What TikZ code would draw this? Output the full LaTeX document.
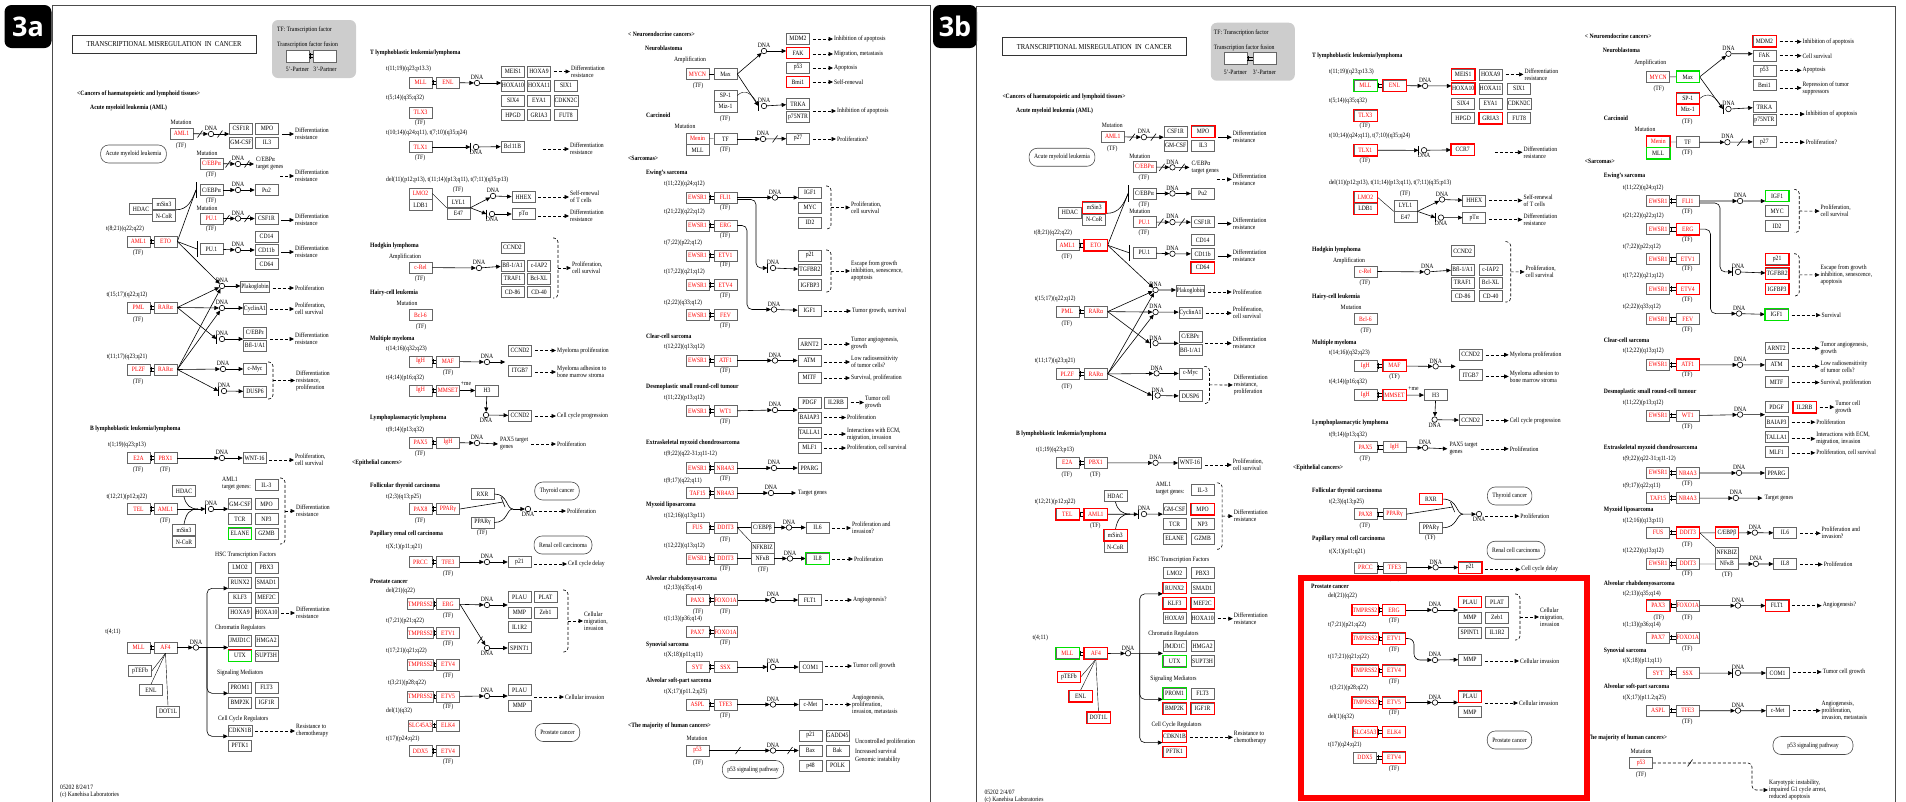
\documentclass[tikz,border=0pt]{standalone}
\usepackage{fontspec}
\setmainfont{Liberation Serif}[FakeStretch=0.86]
\newfontfamily\panelfont{Open Sans}
\usetikzlibrary{arrows.meta,positioning}

\definecolor{kred}{RGB}{255,0,0}
\definecolor{kgreen}{RGB}{0,225,0}
\definecolor{kgray}{RGB}{205,205,205}
\newcommand{\kfont}{\fontsize{6.6}{7}\selectfont}
\newcommand{\hfont}{\bfseries\fontsize{6.6}{7}\selectfont}

\tikzset{
  gene/.style={draw=black!60, line width=0.6pt, fill=white, minimum width=23pt, minimum height=11pt, inner sep=0.5pt, font=\kfont},
  fgene/.style={gene, text=kred},
  txt/.style={anchor=west, inner sep=0pt, font=\kfont, align=left},
  ctxt/.style={inner sep=0pt, font=\kfont, align=center},
  hd/.style={anchor=west, inner sep=0pt, font=\hfont},
  dna/.style={circle, draw=black, line width=0.6pt, minimum size=5.5pt, inner sep=0pt, label distance=1pt},
  dnalbl/.style={font=\kfont, inner sep=0pt},
  arr/.style={line width=0.6pt, -{Triangle[length=4.5pt,width=4pt]}},
  darr/.style={arr, dash pattern=on 3pt off 2pt},
  pathway/.style={draw=black!70, line width=0.6pt, rounded corners=8pt, minimum height=18pt, inner xsep=5pt, font=\kfont},
  hlred/.style={draw=kred, line width=1.2pt},
  hlgreen/.style={draw=kgreen, line width=1.2pt},
}

\newcounter{lbl}
\newcommand{\tw}[3][txt]{\stepcounter{lbl}\node (l\arabic{lbl}) [#1] at (#2) {#3};}
\newcommand{\tx}[2]{\tw[ctxt]{#1}{#2}}
\newcommand{\tf}[1]{\tw[ctxt]{#1}{(TF)}}
\newcommand{\gn}[3]{\node (#1) [gene] at (#2) {#3};}
\newcommand{\fg}[3]{\node (#1) [fgene] at (#2) {#3};}
\newcommand{\res}[3]{\node (#1) [txt] at (#2) {#3};}
\newcommand{\dna}[3][above]{\node (#2) [dna, label={[dnalbl]#1:DNA}] at (#3) {};}
\newcommand{\dnai}[3][above]{\dna[#1]{#2}{#3}\coordinate (#2b) at ([xshift=-2.5pt]#2.west);\draw[line width=0.6pt] (#2b) ++(0,-4.5) -- ++(0,9);}
\newcommand{\fuse}[2]{\draw[line width=0.5pt] ([yshift=1.6pt]#1.east) -- ([yshift=1.6pt]#2.west) ([yshift=-1.6pt]#1.east) -- ([yshift=-1.6pt]#2.west) ([xshift=1pt,yshift=2.6pt]#1.east) -- ([xshift=1pt,yshift=-2.6pt]#1.east);}
\newcommand{\cutm}[1]{\draw[line width=0.6pt] (#1) ++(-2.5,3.5) -- ++(5,-7);}
\newcommand{\go}[2]{\draw[darr] ([xshift=3pt]#1.east |- #2.west) -- ([xshift=-1pt]#2.west);}
\newcommand{\gos}[2]{\draw[arr] ([xshift=3pt]#1.east |- #2.west) -- ([xshift=-1pt]#2.west);}
\newcommand{\brc}[4]{\draw[line width=0.6pt, dash pattern=on 3pt off 2pt, rounded corners=4pt] (#1,#2) -| ({#1+5},{(#2+#3)/2}) |- (#1,#3); \draw[darr] ({#1+5},{(#2+#3)/2}) -- ([xshift=-1pt]#4.west);}
\newcommand{\hlr}[1]{\foreach \n in {#1} {\draw[hlred] (\n.north west) rectangle (\n.south east);}}
\newcommand{\hlg}[1]{\foreach \n in {#1} {\draw[hlgreen] (\n.north west) rectangle (\n.south east);}}
\newif\ifpanelb

% the whole KEGG map 05202, in the coordinates of panel 3a
\newcommand{\cancermap}{%
\node (title) [draw=black!80, line width=1pt, minimum width=184pt, minimum height=18pt, font=\fontsize{7.6}{8}\selectfont] at (164,44) {TRANSCRIPTIONAL MISREGULATION\ \ IN\ \ CANCER};
\node (legend) [fill=kgray, rounded corners=6pt, minimum width=84pt, minimum height=58pt] at (314,49) {};
\tw{277,30}{TF: Transcription factor}
\tw{277,45}{Transcription factor fusion}
\node (p5) [gene, minimum height=12pt] at (297.5,56) {};
\node (p3) [gene, minimum height=12pt] at (325,56) {};
\fuse{p5}{p3}
\tx{297.5,69}{5'-Partner}
\tx{325,69}{3'-Partner}
% AML
\tw[hd]{77,94}{<Cancers of haematopoietic and lymphoid tissues>}
\tw[hd]{90,108}{Acute myeloid leukemia (AML)}
\tx{181,122}{Mutation}
\fg{aml1a}{181.5,133.5}{AML1} \tf{181,146}
\dna{da1}{211,134}
\gn{csf1}{241,128.5}{CSF1R} \gn{gmcsf1}{241,142.5}{GM-CSF}
\gn{mpo1}{267,128.5}{MPO} \gn{il3a}{267,142.5}{IL3}
\draw[arr] (aml1a) -- (da1); \cutm{200,134}
\draw[arr] (da1) -- (da1 -| csf1.west); \cutm{220,134}
\res{dr1}{295,134}{Differentiation\\resistance} \gos{il3a}{dr1}
\node (amlp) [pathway] at (133.5,154) {Acute myeloid leukemia};
\tx{207,153}{Mutation}
\fg{cebpa1}{211.5,163.5}{C/EBPα} \tf{211,175}
\dna{da2}{238,164}
\draw[arr] (cebpa1) -- (da2); \cutm{228,164}
\res{cgt}{256,164}{C/EBPα\\target genes}
\draw[arr] (da2) -- ([xshift=-2pt]cgt.west); \cutm{247,164}
\res{dr2}{295,176}{Differentiation\\resistance}
\draw[darr] ([xshift=-15pt]dr2.west) -- ([xshift=-1pt]dr2.west);
\gn{cebpa2}{211.5,190}{C/EBPα} \tf{211,201}
\coordinate (cbar) at (196,190);
\draw[line width=0.6pt] (cbar) ++(0,-8) -- ++(0,16);
\dna{da3}{238,190}
\gn{pu2}{266.5,190}{Pu2}
\draw[arr] (cebpa2) -- (da3); \draw[arr] (da3) -- (pu2);
\gn{hdac1}{141,209}{HDAC} \gn{msin1}{164,204}{mSin3} \gn{ncor1}{164,216}{N-CoR}
\draw[line width=0.6pt] (msin1.south east) .. controls (188,210) and (192,200) .. (cbar);
\tx{207,208}{Mutation}
\fg{pu1a}{211.5,218.5}{PU.1} \tf{211,229}
\dna{da4}{238,218.5}
\gn{csf2}{266.5,218.5}{CSF1R}
\draw[arr] (pu1a) -- (da4); \cutm{227,218.5} \draw[arr] (da4) -- (csf2); \cutm{247,218.5}
\res{dr3}{295,220}{Differentiation\\resistance} \gos{csf2}{dr3}
\tx{125,229}{t(8;21)(q22;q22)}
\fg{aml1b}{138.5,241.5}{AML1} \fg{eto}{165.5,241.5}{ETO} \fuse{aml1b}{eto} \tf{138,253}
\gn{pu1b}{211.5,249}{PU.1}
\coordinate (pbar) at (197,249);
\draw[line width=0.6pt] (pbar) ++(0,-8) -- ++(0,16);
\draw[line width=0.6pt] (eto.east) -- (cbar);
\draw[line width=0.6pt] (eto.east) -- (pbar);
\dna{da6}{238,250}
\gn{cd14}{266.5,236.5}{CD14} \gn{cd11b}{266.5,250}{CD11b} \gn{cd64}{266.5,264}{CD64}
\draw[arr] (pu1b) -- (da6); \draw[arr] (da6) -- (cd11b);
\res{dr4}{295,252}{Differentiation\\resistance} \gos{cd11b}{dr4}
% APL
\dna{da5}{222,286}
\gn{plak}{255,287}{Plakoglobin}
\draw[arr] (da5) -- (da5 -| plak.west);
\res{pr1}{295,288}{Proliferation} \go{plak}{pr1}
\draw[arr] (eto.east) -- (da5);
\tx{127,295}{t(15;17)(q22;q12)}
\fg{pml}{138.5,307.5}{PML} \fg{rara1}{165.5,307.5}{RARα} \fuse{pml}{rara1} \tf{138,320}
\dna{da7}{222,308}
\gn{cyca1}{255,309}{CyclinA1}
\draw[arr] (da7) -- (da7 -| cyca1.west);
\res{pr2}{295,309}{Proliferation,\\cell survival} \go{cyca1}{pr2}
\dnai{da8}{222,339}
\gn{cebpe}{255,332.5}{C/EBPε} \gn{bfl1}{255,345.5}{Bfl-1/A1}
\draw[arr] (da8) -- (da8 -| cebpe.west);
\res{dr5}{295,339}{Differentiation\\resistance} \go{cebpe}{dr5}
\tx{127,357}{t(11;17)(q23;q21)}
\fg{plzf}{138.5,369.5}{PLZF} \fg{rara2}{165.5,369.5}{RARα} \fuse{plzf}{rara2} \tf{138,382}
\dna{da9}{223,369}
\gn{cmyc}{255,369}{c-Myc}
\dnai{da10}{224,391}
\gn{dusp6}{255,391.5}{DUSP6}
\draw[arr] (da9) -- (cmyc); \draw[arr] (da10) -- (dusp6);
\res{dr6}{296,380.5}{Differentiation\\resistance,\\proliferation}
\brc{268}{362}{399}{dr6}
\draw[arr] (rara1.east) -- (da5); \draw[arr] (rara1.east) -- (da7); \draw[arr] (rara1.east) -- (da8b);
\draw[arr] (rara2.east) -- (da5); \draw[arr] (rara2.east) -- (da7); \draw[arr] (rara2.east) -- (da9); \draw[arr] (rara2.east) -- (da10b);
% B lymphoblastic
\tw[hd]{90,429}{B lymphoblastic leukemia/lymphoma}
\tx{127,445}{t(1;19)(q23;p13)}
\fg{e2a}{138.5,458}{E2A} \fg{pbx1}{165.5,458}{PBX1} \fuse{e2a}{pbx1} \tf{138,470} \tf{165,470}
\dna{da11}{222,458}
\gn{wnt16}{254.5,458}{WNT-16}
\draw[arr] (pbx1) -- (da11); \draw[arr] (da11) -- (wnt16);
\res{pr3}{295,460}{Proliferation,\\cell survival} \go{wnt16}{pr3}
\gn{hdac2}{184,491}{HDAC}
\tx{127,497}{t(12;21)(p12;q22)}
\fg{tel}{138.5,509}{TEL} \fg{aml1c}{165.5,509}{AML1} \fuse{tel}{aml1c} \tf{165,521}
\gn{msin2}{184,530}{mSin3} \gn{ncor2}{184,542}{N-CoR}
\dnai{da12}{211,509}
\draw[arr] (aml1c) -- (da12b);
\draw[line width=0.6pt] (hdac2.south) .. controls (186,505) and (190,509) .. (198,509);
\draw[line width=0.6pt] (msin2.north) .. controls (186,513) and (190,509) .. (198,509);
\tw{222,484}{AML1\\target genes:}
\gn{il3b}{266.5,485}{IL-3}
\gn{gmcsf2}{240,504}{GM-CSF} \gn{mpo2}{266.5,504}{MPO}
\gn{tcr}{240,519}{TCR} \gn{np3}{266.5,519}{NP3}
\gn{elane}{240,533.5}{ELANE} \gn{gzmb}{266.5,533.5}{GZMB}
\draw[arr] (da12) -- (da12 -| gmcsf2.west);
\res{dr7}{296,511}{Differentiation\\resistance}
\brc{280}{478}{544}{dr7}
\tw{215,555}{HSC Transcription Factors}
\gn{lmo2b}{240,567.5}{LMO2} \gn{pbx3}{266.5,567.5}{PBX3}
\gn{runx2}{240,582.5}{RUNX2} \gn{smad1}{266.5,582.5}{SMAD1}
\gn{klf3}{240,597.5}{KLF3} \gn{mef2c}{266.5,597.5}{MEF2C}
\gn{hoxa9b}{240,612.5}{HOXA9} \gn{hoxa10b}{266.5,612.5}{HOXA10}
\res{dr8}{296,613}{Differentiation\\resistance} \go{hoxa10b}{dr8}
\tw{215,628}{Chromatin Regulators}
\gn{jmjd1c}{240,640.5}{JMJD1C} \gn{hmga2}{266.5,640.5}{HMGA2}
\gn{utx}{240,655.5}{UTX} \gn{supt3h}{266.5,655.5}{SUPT3H}
\tw{217,673}{Signaling Mediators}
\gn{prom1}{240,687.5}{PROM1} \gn{flt3}{266.5,687.5}{FLT3}
\gn{bmp2k}{240,702.5}{BMP2K} \gn{igf1r}{266.5,702.5}{IGF1R}
\tw{218,719}{Cell Cycle Regulators}
\gn{cdkn1b}{240,730.5}{CDKN1B} \gn{pftk1}{240,745.5}{PFTK1}
\res{rc}{296,731}{Resistance to\\chemotherapy} \go{cdkn1b}{rc}
\tx{113,632}{t(4;11)}
\fg{mll1}{138.5,647.5}{MLL} \fg{af4}{165.5,647.5}{AF4} \fuse{mll1}{af4}
\dna{da13}{196,647.5}
\draw[arr] (af4) -- (da13);
\coordinate (br) at (207,647.5);
\draw[arr] (da13) -- (da13 -| jmjd1c.west);
\draw[arr, rounded corners=5pt] (br) |- (runx2.south west);
\draw[arr, rounded corners=5pt] (br) |- (prom1.south west);
\draw[arr, rounded corners=5pt] (br) |- (cdkn1b.south west);
\gn{ptefb}{140,671}{pTEFb} \gn{enl1}{151,690}{ENL} \gn{dot1l}{168,711.5}{DOT1L}
\draw (af4.south) -- (ptefb.east); \draw (af4.south) -- (enl1.north); \draw (af4.south) -- (dot1l.north);
\ifpanelb \tw{60,786}{05202 2/4/07}\tw{60,793}{(c) Kanehisa Laboratories}\else \tw{60,787}{05202 8/24/17}\tw{60,795}{(c) Kanehisa Laboratories}\fi
% T lymphoblastic
\tw[hd]{370,53}{T lymphoblastic leukemia/lymphoma}
\tw{386,69}{t(11;19)(q23;p13.3)}
\fg{mll2}{420.5,82.5}{MLL} \fg{enl2}{448,82.5}{ENL} \fuse{mll2}{enl2}
\dna{da14}{477,83}
\gn{meis1}{513,71.5}{MEIS1} \gn{hoxa9}{539,71.5}{HOXA9}
\gn{hoxa10}{513,85.5}{HOXA10} \gn{hoxa11}{539,85.5}{HOXA11} \gn{six1}{566,85.5}{SIX1}
\gn{six4}{513,100.5}{SIX4} \gn{eya1}{539,100.5}{EYA1} \gn{cdkn2c}{566,100.5}{CDKN2C}
\gn{hpgd}{513,115}{HPGD} \gn{gria3}{539,115}{GRIA3} \gn{fut8}{566,115}{FUT8}
\draw[arr] (enl2) -- (da14); \draw[arr] (da14) -- (da14 -| hoxa10.west);
\res{dr9}{571,71.5}{Differentiation\\resistance} \go{hoxa9}{dr9}
\tw{386,98}{t(5;14)(q35;q32)}
\fg{tlx3}{420.5,112.5}{TLX3} \tf{420,123}
\tw{386,133}{t(10;14)(q24;q11), t(7;10)(q35;q24)}
\fg{tlx1}{420.5,147}{TLX1} \tf{420,158}
\dnai[below]{da15}{476,147}
\ifpanelb \gn{bcl11b}{512.5,146.5}{CCR7}\else \gn{bcl11b}{512.5,146.5}{Bcl11B}\fi
\draw[arr] (tlx1) -- (da15b); \draw[arr] (da15) -- (bcl11b);
\res{dr10}{570,149}{Differentiation\\resistance}
\draw[darr] ([xshift=-27pt]dr10.west) -- ([xshift=-1pt]dr10.west);
\tw{386,180}{del(11)(p12;p13), t(11;14)(p13;q11), t(7;11)(q35;p13)}
\tx{458,190}{(TF)}
\fg{lmo2}{420.5,193.5}{LMO2} \gn{ldb1}{420.5,205}{LDB1}
\gn{lyl1}{458.5,202}{LYL1} \gn{e47}{458.5,213.5}{E47}
\draw (lmo2.east) -- (lyl1.south west);
\dna{da16}{493,196} \dnai[below]{da17}{492,214}
\draw[arr] (lyl1.south east) -- (da16); \draw[arr] (lyl1.south east) -- (da17b);
\gn{hhex}{523.5,197}{HHEX} \gn{pta}{523.5,214}{pTα}
\draw[arr] (da16) -- (hhex); \draw[arr] (da17) -- (pta);
\res{srt}{570,197}{Self-renewal\\of T cells} \go{hhex}{srt}
\res{dr11}{570,216}{Differentiation\\resistance} \go{pta}{dr11}
% Hodgkin, hairy cell, myeloma
\tw[hd]{370,246}{Hodgkin lymphoma}
\tx{405,257}{Amplification}
\fg{crel}{420.5,267.5}{c-Rel} \tf{420,279}
\dna{da18}{479,268}
\gn{ccnd2a}{512.5,247.5}{CCND2}
\gn{bfl2}{512.5,265.5}{Bfl-1/A1} \gn{ciap2}{539,265.5}{c-IAP2}
\gn{traf1}{512.5,278.5}{TRAF1} \gn{bclxl}{539,278.5}{Bcl-XL}
\gn{cd86}{512.5,292}{CD-86} \gn{cd40}{539,292}{CD-40}
\draw[arr] (crel) -- (da18); \draw[arr] (da18) -- (bfl2);
\res{pc1}{572,268}{Proliferation,\\cell survival} \brc{553}{238}{298}{pc1}
\tw[hd]{370,293}{Hairy-cell leukemia}
\tx{407,303}{Mutation}
\fg{bcl6}{420.5,315}{Bcl-6} \tf{421,327}
\tw[hd]{370,339}{Multiple myeloma}
\tw{386,349}{t(14;16)(q32;q23)}
\fg{igh1}{420.5,361.5}{IgH} \fg{maf}{448,361.5}{MAF} \fuse{igh1}{maf} \tf{448,373}
\dna{da19}{487,362}
\gn{ccnd2b}{520,350.5}{CCND2} \gn{itgb7}{520,370.5}{ITGB7}
\draw[arr] (maf) -- (da19); \draw[arr] (da19) -- ([xshift=-3pt]da19 -| ccnd2b.west);
\res{mp}{557,350.5}{Myeloma proliferation} \go{ccnd2b}{mp}
\res{ma}{557,372}{Myeloma adhesion to\\bone marrow stroma} \go{itgb7}{ma}
\tw{386,378}{t(4;14)(p16;q32)}
\fg{igh2}{420.5,390.5}{IgH} \fg{mmset}{448,390.5}{MMSET} \fuse{igh2}{mmset}
\gn{h3}{487,390.5}{H3}
\draw[arr] (mmset) -- (h3); \tx{466,384}{+me}
\dna[below]{da20}{486,415}
\draw[arr] (h3) -- (da20);
\gn{ccnd2c}{520,415.5}{CCND2}
\draw[arr] (da20) -- (ccnd2c);
\res{ccp}{557,416}{Cell cycle progression} \go{ccnd2c}{ccp}
\tw[hd]{370,418}{Lymphoplasmacytic lymphoma}
\tw{386,430}{t(9;14)(p13;q32)}
\fg{pax5}{420.5,442.5}{PAX5} \fg{igh3}{448,442.5}{IgH} \fuse{pax5}{igh3} \tf{420,454}
\dna{da21}{477,443}
\draw[arr] (igh3) -- (da21);
\res{p5t}{500,444}{PAX5 target\\genes}
\draw[arr] (da21) -- ([xshift=-2pt]p5t.west);
\res{pro4}{557,444}{Proliferation} \go{p5t}{pro4}
% epithelial
\tw[hd]{352,463}{<Epithelial cancers>}
\tw[hd]{370,486}{Follicular thyroid carcinoma}
\tw{386,497}{t(2;3)(q13;p25)}
\fg{pax8}{420.5,509}{PAX8} \fg{pparg1}{448,509}{PPARγ} \fuse{pax8}{pparg1} \tf{420,521}
\gn{rxr}{482.5,494}{RXR} \gn{pparg2}{482.5,522.5}{PPARγ} \tf{482,533}
\node (thyroid) [pathway] at (557,491) {Thyroid cancer};
\dna[below]{da22}{528,509}
\coordinate (jn) at (513,509);
\draw[line width=0.6pt] (rxr.east) .. controls (508,494) and (506,509) .. (jn);
\draw[line width=0.6pt] (pparg2.east) .. controls (508,522.5) and (506,509) .. (jn);
\draw[arr] (jn) -- (da22);
\draw[line width=0.6pt] (pparg1.east) -- (503,502);
\draw[line width=0.6pt] (501,497) -- (505,507);
\res{pro5}{567,511}{Proliferation}
\draw[darr] ([xshift=3pt]da22.east |- pro5.west) -- ([xshift=-1pt]pro5.west);
\tw[hd]{370,534}{Papillary renal cell carcinoma}
\tw{386,547}{t(X;1)(p11;q21)}
\fg{prcc}{420.5,562}{PRCC} \fg{tfe3a}{448,562}{TFE3} \fuse{prcc}{tfe3a} \tf{448,574}
\node (renal) [pathway] at (563,545) {Renal cell carcinoma};
\dna{da23}{487,562}
\gn{p21a}{519.5,562}{p21}
\draw[arr] (tfe3a) -- (da23); \draw[arr] (da23) -- (p21a);
\res{ccd}{568,564}{Cell cycle delay} \go{p21a}{ccd}
\ifpanelb\else
\tw[hd]{370,581}{Prostate cancer}
\tw{386,591}{del(21)(q22)}
\fg{tmp1}{420.5,604}{TMPRSS2} \fg{erg1}{448,604}{ERG} \fuse{tmp1}{erg1} \tf{448,616}
\dna{da24}{487,605}
\gn{plau1}{519.5,597}{PLAU} \gn{plat}{545.5,597}{PLAT}
\gn{mmp1}{519.5,612.5}{MMP} \gn{zeb1}{545.5,612.5}{Zeb1}
\gn{il1r2}{519.5,627}{IL1R2}
\gn{spint1}{519.5,648}{SPINT1}
\draw[arr] (erg1) -- (da24); \draw[arr] (da24) -- (da24 -| plau1.west);
\dna[below]{da25}{487,648}
\draw[arr] (erg1.east) -- (da25); \cutm{480,640}
\draw[arr] (da25) -- (spint1);
\res{cmi}{584,621}{Cellular\\migration,\\invasion} \brc{563}{590}{652}{cmi}
\tw{386,621}{t(7;21)(p21;q22)}
\fg{tmp2}{420.5,633}{TMPRSS2} \fg{etv1a}{448,633}{ETV1} \fuse{tmp2}{etv1a} \tf{448,644}
\tw{386,651}{t(17;21)(q21;q22)}
\fg{tmp3}{420.5,664.5}{TMPRSS2} \fg{etv4a}{448,664.5}{ETV4} \fuse{tmp3}{etv4a} \tf{448,676}
\tw{388,683}{t(3;21)(p28;q22)}
\fg{tmp4}{420.5,696.5}{TMPRSS2} \fg{etv5}{448,696.5}{ETV5} \fuse{tmp4}{etv5} \tf{448,707}
\dna{da26}{487,696}
\gn{plau2}{519.5,690}{PLAU} \gn{mmp2}{519.5,705.5}{MMP}
\draw[arr] (etv5) -- (da26); \draw[arr] (da26) -- (da26 -| plau2.west);
\res{ci}{565,697}{Cellular invasion} \go{plau2}{ci}
\tw{386,711}{del(1)(q32)}
\fg{slc}{420.5,725.5}{SLC45A3} \fg{elk4}{448,725.5}{ELK4} \fuse{slc}{elk4}
\node (prostate) [pathway] at (557.5,732.5) {Prostate cancer};
\tw{386,739}{t(17)(p24;q21)}
\fg{ddx5}{420.5,751}{DDX5} \fg{etv4b}{448,751}{ETV4} \fuse{ddx5}{etv4b} \tf{448,762}
\fi
% neuroendocrine
\tw[hd]{628,34}{< Neuroendocrine cancers>}
\tw[hd]{645,48}{Neuroblastoma}
\tx{690,60}{Amplification}
\fg{mycn}{697.5,74}{MYCN} \gn{max}{725.5,74}{Max} \draw (mycn) -- (max); \tf{698,86}
\dna{da27}{764,51} \dnai{da28}{764,106}
\draw[arr] (max.east) -- (da27); \draw[arr] (max.east) -- (da28b);
\gn{mdm2}{798,38.5}{MDM2} \gn{fak}{798,53}{FAK} \gn{p53a}{798,67.5}{p53} \gn{bmi1}{798,82}{Bmi1}
\draw[arr] (da27) -- (da27 -| fak.west);
\res{ia1}{834,39}{Inhibition of apoptosis} \go{mdm2}{ia1}
\ifpanelb
 \res{mm1}{834,53}{Cell survival} \go{fak}{mm1}
 \res{ap1}{834,67.5}{Apoptosis} \go{p53a}{ap1}
 \res{sr1}{834,85}{Repression of tumor\\suppressors} \go{bmi1}{sr1}
\else
 \res{mm1}{834,54}{Migration, metastasis} \go{fak}{mm1}
 \res{ap1}{834,68}{Apoptosis} \go{p53a}{ap1}
 \res{sr1}{834,82}{Self-renewal} \go{bmi1}{sr1}
\fi
\gn{sp1}{725.5,95.5}{SP-1} \gn{miz1}{725.5,106.5}{Miz-1} \tf{725,119}
\draw (sp1.east) .. controls (745,88) and (752,94) .. (757,103);
\gn{trka}{798,104}{TRKA} \gn{p75}{798,117}{p75NTR}
\draw[arr] (da28) -- (trka);
\res{ia2}{837,111}{Inhibition of apoptosis} \go{p75}{ia2}
\tw[hd]{646,115}{Carcinoid}
\tx{685,126}{Mutation}
\fg{menin}{697.5,138.5}{Menin} \gn{mll3}{697.5,150}{MLL}
\gn{tfc}{725.5,139}{TF} \tf{725,150}
\draw (menin) -- (tfc);
\dna{da29}{763,139}
\gn{p27}{798,138.5}{p27}
\draw[arr] (tfc) -- (da29); \draw[arr] (da29) -- (p27); \cutm{775,139}
\res{prq}{837,139}{Proliferation?} \go{p27}{prq}
% sarcomas
\tw[hd]{628,158}{<Sarcomas>}
\tw[hd]{646,173}{Ewing's sarcoma}
\tw{664,184}{t(11;22)(q24;q12)}
\fg{ews1}{697.5,197.5}{EWSR1} \fg{fli1}{725.5,197.5}{FLI1} \fuse{ews1}{fli1} \tf{725,208}
\dna{da30}{775,197.5}
\gn{igf1a}{810,192.5}{IGF1} \gn{myc}{810,207.5}{MYC} \gn{id2}{810,222.5}{ID2}
\draw[arr] (fli1) -- (da30); \draw[arr] (da30) -- (da30 -| igf1a.west);
\res{pc2}{851,207.5}{Proliferation,\\cell survival} \brc{826}{186}{229}{pc2}
\tw{664,212}{t(21;22)(q22;q12)}
\fg{ews2}{697.5,225.5}{EWSR1} \fg{erg2}{725.5,225.5}{ERG} \fuse{ews2}{erg2} \tf{725,236}
\tw{664,243}{t(7;22)(p22;q12)}
\fg{ews3}{697.5,255.5}{EWSR1} \fg{etv1b}{725.5,255.5}{ETV1} \fuse{ews3}{etv1b} \tf{725,265}
\tw{664,272}{t(17;22)(q21;q12)}
\fg{ews4}{697.5,285}{EWSR1} \fg{etv4c}{725.5,285}{ETV4} \fuse{ews4}{etv4c} \tf{725,296}
\tw{664,303}{t(2;22)(q33;q12)}
\fg{ews5}{697.5,315}{EWSR1} \fg{fev}{725.5,315}{FEV} \fuse{ews5}{fev} \tf{725,326}
\dnai{da31}{773,268}
\draw[arr, rounded corners=5pt] ([yshift=-2pt]fli1.east) -| (756,268) -- (da31b);
\gn{p21b}{810,255.5}{p21} \gn{tgfbr2}{810,269.5}{TGFBR2} \gn{igfbp3}{810,285}{IGFBP3}
\draw[arr] (da31) -- (tgfbr2);
\res{eg}{851,271}{Escape from growth\\inhibition, senescence,\\apoptosis} \brc{826}{250}{292}{eg}
\dna{da32}{774,309.5}
\draw[arr, rounded corners=5pt] (erg2.east) -| (747,309.5) -- (da32);
\gn{igf1b}{809.5,310.5}{IGF1}
\draw[arr] (da32) -- (igf1b);
\ifpanelb \res{tg}{852,311}{Survival}\else \res{tg}{852,311}{Tumor growth, survival}\fi
\go{igf1b}{tg}
\tw[hd]{646,336}{Clear-cell sarcoma}
\tw{664,347}{t(12;22)(q13;q12)}
\fg{ews6}{697.5,360.5}{EWSR1} \fg{atf1}{725.5,360.5}{ATF1} \fuse{ews6}{atf1} \tf{725,371}
\dna{da33}{775,360.5}
\gn{arnt2}{809.5,344}{ARNT2} \gn{atm}{809.5,360.5}{ATM} \gn{mitf}{809.5,377.5}{MITF}
\draw[arr] (atf1) -- (da33); \draw[arr] (da33) -- (atm);
\res{ta}{851,344}{Tumor angiogenesis,\\growth} \go{arnt2}{ta}
\res{lr}{851,362}{Low radiosensitivity\\of tumor cells?} \go{atm}{lr}
\res{sp}{851,378}{Survival, proliferation} \go{mitf}{sp}
\tw[hd]{646,387}{Desmoplastic small round-cell tumour}
\tw{664,398}{t(11;22)(p13;q12)}
\fg{ews7}{697.5,411}{EWSR1} \fg{wt1}{725.5,411}{WT1} \fuse{ews7}{wt1} \tf{725,422}
\dna{da34}{775,410}
\gn{pdgf}{809.5,402.5}{PDGF} \gn{il2rb}{836,402.5}{IL2RB} \gn{baiap3}{809.5,417.5}{BAIAP3}
\gn{talla1}{809.5,432.5}{TALLA1} \gn{mlf1}{809.5,447.5}{MLF1}
\draw[arr] (wt1) -- (da34); \draw[arr] (da34) -- (da34 -| pdgf.west);
\res{tcg}{865,402.5}{Tumor cell\\growth} \go{il2rb}{tcg}
\res{pr5}{847,417.5}{Proliferation} \go{baiap3}{pr5}
\res{ie}{847,434}{Interactions with ECM,\\migration, invasion} \go{talla1}{ie}
\res{pcs}{847,448}{Proliferation, cell survival} \go{mlf1}{pcs}
\tw[hd]{646,443}{Extraskeletal myxoid chondrosarcoma}
\tw{664,454}{t(9;22)(q22-31;q11-12)}
\fg{ews8}{697.5,468}{EWSR1} \fg{nr4a3a}{725.5,468}{NR4A3} \fuse{ews8}{nr4a3a} \tf{725,479}
\dna{da35}{774,468}
\gn{pparg3}{809.5,468}{PPARG}
\draw[arr] (nr4a3a) -- (da35); \draw[arr] (da35) -- (pparg3);
\tw{664,481}{t(9;17)(q22;q11)}
\fg{taf15}{697.5,493}{TAF15} \fg{nr4a3b}{725.5,493}{NR4A3} \fuse{taf15}{nr4a3b}
\dna{da36}{771,493}
\res{tgn}{798,493}{Target genes}
\draw[arr] (nr4a3b) -- (da36); \draw[arr] (da36) -- ([xshift=-2pt]tgn.west);
\tw[hd]{646,505}{Myxoid liposarcoma}
\tw{664,516}{t(12;16)(q13;p11)}
\fg{fus}{697.5,527.5}{FUS} \fg{ddit3a}{725.5,527.5}{DDIT3} \fuse{fus}{ddit3a} \tf{725,540}
\gn{cebpb}{762.5,527.5}{C/EBPβ}
\dna{da37}{789,527.5}
\gn{il6}{817.5,527.5}{IL6}
\draw (ddit3a) -- (cebpb); \draw[arr] (cebpb) -- (da37); \draw[arr] (da37) -- (il6);
\res{pi}{852,528}{Proliferation and\\invasion?} \go{il6}{pi}
\tw{664,546}{t(12;22)(q13;q12)}
\fg{ews9}{697.5,558.5}{EWSR1} \fg{ddit3b}{725.5,558.5}{DDIT3} \fuse{ews9}{ddit3b} \tf{725,569}
\gn{nfkbiz}{762.5,547.5}{NFKBIZ} \gn{nfkb}{762.5,558.5}{NFκB} \tf{763,570}
\draw (ddit3a.east) -- (nfkbiz.north west); \draw (ddit3b) -- (nfkb);
\dna{da38}{790,558.5}
\gn{il8}{817.5,558.5}{IL8}
\draw[arr] (nfkb) -- (da38); \draw[arr] (da38) -- (il8);
\res{pr6}{854,559}{Proliferation} \go{il8}{pr6}
\tw[hd]{646,579}{Alveolar rhabdomyosarcoma}
\tw{664,588}{t(2;13)(q35;q14)}
\fg{pax3}{697.5,600}{PAX3} \fg{foxo1a}{725.5,600}{FOXO1A} \fuse{pax3}{foxo1a} \tf{698,612} \tf{725,612}
\dna{da39}{773,600}
\gn{flt1}{810,600}{FLT1}
\draw[arr] (foxo1a) -- (da39); \draw[arr] (da39) -- (flt1);
\res{ang}{853,600}{Angiogenesis?} \go{flt1}{ang}
\tw{664,619}{t(1;13)(p36;q14)}
\fg{pax7}{697.5,632}{PAX7} \fg{foxo1b}{725.5,632}{FOXO1A} \fuse{pax7}{foxo1b} \tf{725,643}
\tw[hd]{646,645}{Synovial sarcoma}
\tw{664,655}{t(X;18)(p11;q11)}
\fg{syt}{697.5,667}{SYT} \fg{ssx}{725.5,667}{SSX} \fuse{syt}{ssx}
\dnai{da40}{773,667}
\gn{com1}{810.5,667}{COM1}
\draw[arr] (ssx) -- (da40b); \draw[arr] (da40) -- (com1);
\res{tcg2}{853,666}{Tumor cell growth} \go{com1}{tcg2}
\tw[hd]{646,681}{Alveolar soft-part sarcoma}
\tw{664,692}{t(X;17)(p11.2;q25)}
\fg{aspl}{697.5,704.5}{ASPL} \fg{tfe3b}{725.5,704.5}{TFE3} \fuse{aspl}{tfe3b} \tf{725,716}
\dna{da41}{773,704.5}
\gn{cmet}{810.5,704.5}{c-Met}
\draw[arr] (tfe3b) -- (da41); \draw[arr] (da41) -- (cmet);
\res{apim}{852,704.5}{Angiogenesis,\\proliferation,\\invasion, metastasis} \go{cmet}{apim}
\ifpanelb\else
\tw[hd]{628,726}{<The majority of human cancers>}
\tx{697,738}{Mutation}
\fg{p53b}{697.5,750.5}{p53} \tf{698,763}
\dna{da42}{773,750.5}
\gn{p21c}{810.5,735.5}{p21} \gn{gadd45}{837.5,735.5}{GADD45}
\gn{bax}{810.5,750.5}{Bax} \gn{bak}{837.5,750.5}{Bak}
\gn{p48}{810.5,765.5}{p48} \gn{polk}{837.5,765.5}{POLK}
\draw[arr] (p53b) -- (da42); \cutm{738,750.5}
\draw[arr] (da42) -- (bax); \cutm{790,750.5}
\tw{855,742}{Uncontrolled proliferation}
\tw{855,751}{Increased survival}
\tw{855,760}{Genomic instability}
\node (p53path) [pathway] at (753,769.5) {p53 signaling pathway};
\fi
}

\begin{document}
\begin{tikzpicture}[x=1pt, y=-1pt]
\useasboundingbox (0,0) rectangle (1906,801);
% panel labels and frames
\node (labela) [fill=black, rounded corners=7pt, minimum width=47pt, minimum height=43pt, inner sep=0pt, text=white, font=\panelfont\bfseries\fontsize{27}{27}\selectfont] at (28,26.5) {3a};
\node (labelb) [fill=black, rounded corners=7pt, minimum width=44pt, minimum height=43pt, inner sep=0pt, text=white, font=\panelfont\bfseries\fontsize{27}{27}\selectfont] at (955,26.5) {3b};
\draw[black!70, line width=1pt] (52,805) -- (52,5) -- (930,5) -- (930,805);
\draw[black!70, line width=1pt] (976,805) -- (976,6) -- (1895,6) -- (1895,805);

% panel 3a
\begin{scope}[name prefix=a-]
\panelbfalse
\cancermap
\hlr{fak,bmi1}
\hlg{elane,il8,utx}
\draw[hlred] (utx.north west) -- (utx.north east);
\end{scope}

% panel 3b
\begin{scope}[name prefix=b-, xshift=920.9pt, yshift=-2.5pt, xscale=1.057, yscale=1.005]
\panelbtrue
\cancermap
\hlr{mpo1,msin1,eto,cd64,tel,aml1c,msin2,mpo2,runx2,klf3,mef2c,bmp2k,igf1r,cdkn1b,pftk1,af4,ptefb,enl1,dot1l}
\hlr{enl2,meis1,hoxa10,gria3,tlx3,tlx1,bcl11b,lmo2,ldb1,maf,mmset,rxr,p21a}
\hlr{mdm2,sp1,miz1,menin,erg2,etv4c,p21b,tgfbr2,igfbp3,atf1,il2rb,ddit3a,cebpb,pax3,flt1}
\hlg{max,mll3,igf1a,igf1b,mll1,mll2,utx,prom1}
\end{scope}

% parts of panel 3b that are laid out differently
\begin{scope}[name prefix=b-]
\tw[hd]{1311,586}{Prostate cancer}
\tw{1328,596}{del(21)(q22)}
\fg{tmp1}{1365,610}{TMPRSS2} \fg{erg1}{1394,610}{ERG} \fuse{tmp1}{erg1} \tf{1394,621}
\dna{da24}{1435,610}
\gn{plau1}{1470,602}{PLAU} \gn{plat}{1497,602}{PLAT}
\gn{mmp1}{1470,617.5}{MMP} \gn{zeb1}{1497,617.5}{Zeb1}
\gn{spint1}{1470,632.5}{SPINT1} \gn{il1r2}{1497,632.5}{IL1R2}
\draw[arr] (erg1) -- (da24); \draw[arr] (da24) -- (da24 -| plau1.west);
\res{cmi}{1540,617}{Cellular\\migration,\\invasion} \brc{1515}{594}{640}{cmi}
\tw{1328,625}{t(7;21)(p21;q22)}
\fg{tmp2}{1365,638.5}{TMPRSS2} \fg{etv1a}{1394,638.5}{ETV1} \fuse{tmp2}{etv1a} \tf{1394,650}
\dna{da25}{1435,660}
\draw[arr, rounded corners=6pt] (etv1a.east) -| (1414,660) -- (da25);
\gn{mmp3}{1470,659.5}{MMP}
\draw[arr] (da25) -- (mmp3);
\res{ci1}{1520,661}{Cellular invasion} \go{mmp3}{ci1}
\tw{1328,657}{t(17;21)(q21;q22)}
\fg{tmp3}{1365,670.5}{TMPRSS2} \fg{etv4a}{1394,670.5}{ETV4} \fuse{tmp3}{etv4a} \tf{1394,682}
\tw{1330,688}{t(3;21)(p28;q22)}
\fg{tmp4}{1365,702.5}{TMPRSS2} \fg{etv5}{1394,702.5}{ETV5} \fuse{tmp4}{etv5} \tf{1394,713}
\dna{da26}{1435,702.5}
\gn{plau2}{1470,696.5}{PLAU} \gn{mmp2}{1470,712}{MMP}
\draw[arr] (etv5) -- (da26); \draw[arr] (da26) -- (da26 -| plau2.west);
\res{ci2}{1519,703}{Cellular invasion} \go{plau2}{ci2}
\tw{1328,717}{del(1)(q32)}
\fg{slc}{1365,732}{SLC45A3} \fg{elk4}{1394,732}{ELK4} \fuse{slc}{elk4}
\node (prostate) [pathway] at (1509.5,740) {Prostate cancer};
\tw{1328,745}{t(17)(q24;q21)}
\fg{ddx5}{1365,757.5}{DDX5} \fg{etv4b}{1394,757.5}{ETV4} \fuse{ddx5}{etv4b} \tf{1394,769}
\hlr{tmp1,tmp2,tmp3,tmp4,erg1,etv1a,etv4a,etv5,slc,elk4,etv4b,plau1,plau2}
% the majority of human cancers
\tw[hd]{1584,738}{<The majority of human cancers>}
\tx{1641,751}{Mutation}
\fg{p53b}{1641,763}{p53} \tf{1641,775}
\node (p53path) [pathway, minimum width=80pt] at (1813,745.5) {p53 signaling pathway};
\res{kar}{1769,790}{Karyotypic instability,\\impaired G1 cycle arrest,\\reduced apoptosis}
\draw[darr, rounded corners=4pt] (p53b.east) -| (1752,790) -- ([xshift=-1pt]kar.west); \cutm{1690,763}
\end{scope}
\draw[kred, line width=6pt] (1301,578) rectangle (1587,798);
\end{tikzpicture}
\end{document}
